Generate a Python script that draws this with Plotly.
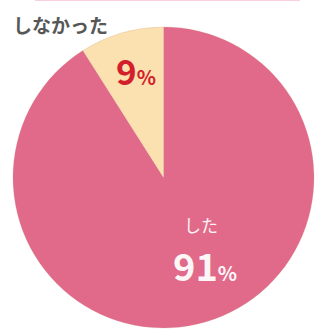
import plotly.graph_objects as go

labels = ["した", "しなかった"]
values = [91, 9]
colors = ["#e1698a", "#fbe0b0"]

W, H = 315, 329
def px(x):
    return x / W
def py(y):
    return 1 - y / H

fig = go.Figure(go.Pie(
    labels=labels, values=values, sort=False, direction="clockwise", rotation=0,
    marker=dict(colors=colors, line=dict(color="rgba(200,150,130,0.35)", width=0.6)),
    textinfo="none", hoverinfo="label+percent", showlegend=False,
    domain=dict(x=[px(12.5), px(314.5)], y=[py(328), py(27)]),
))

font = "Noto Sans CJK JP"
fig.add_annotation(x=px(11), y=py(25), xref="paper", yref="paper", xanchor="left", yanchor="middle",
                   text="しなかった", showarrow=False,
                   font=dict(family=font, size=19, color="#575757", weight=700))
fig.add_annotation(x=px(136), y=py(69), xref="paper", yref="paper", xanchor="center", yanchor="middle",
                   text="<b>9<span style='font-size:20px'>%</span></b>", showarrow=False,
                   font=dict(family=font, size=35, color="#d21f2b"))
fig.add_annotation(x=px(201), y=py(225), xref="paper", yref="paper", xanchor="center", yanchor="middle",
                   text="した", showarrow=False,
                   font=dict(family=font, size=17, color="#fdf3f5"))
fig.add_annotation(x=px(205), y=py(264), xref="paper", yref="paper", xanchor="center", yanchor="middle",
                   text="<b>91<span style='font-size:20px'>%</span></b>", showarrow=False,
                   font=dict(family=font, size=38, color="#fdf6f7"))

fig.add_shape(type="line", xref="paper", yref="paper", x0=px(35), x1=px(300), y0=py(0.5), y1=py(0.5),
              line=dict(color="#fbd0dc", width=1.2))

fig.update_layout(width=W, height=H, margin=dict(l=0, r=0, t=0, b=0),
                  paper_bgcolor="white", plot_bgcolor="white")
fig.write_html("out.html", config={"displayModeBar": False},
               post_script="document.body.style.margin='0';document.body.style.padding='0';")
